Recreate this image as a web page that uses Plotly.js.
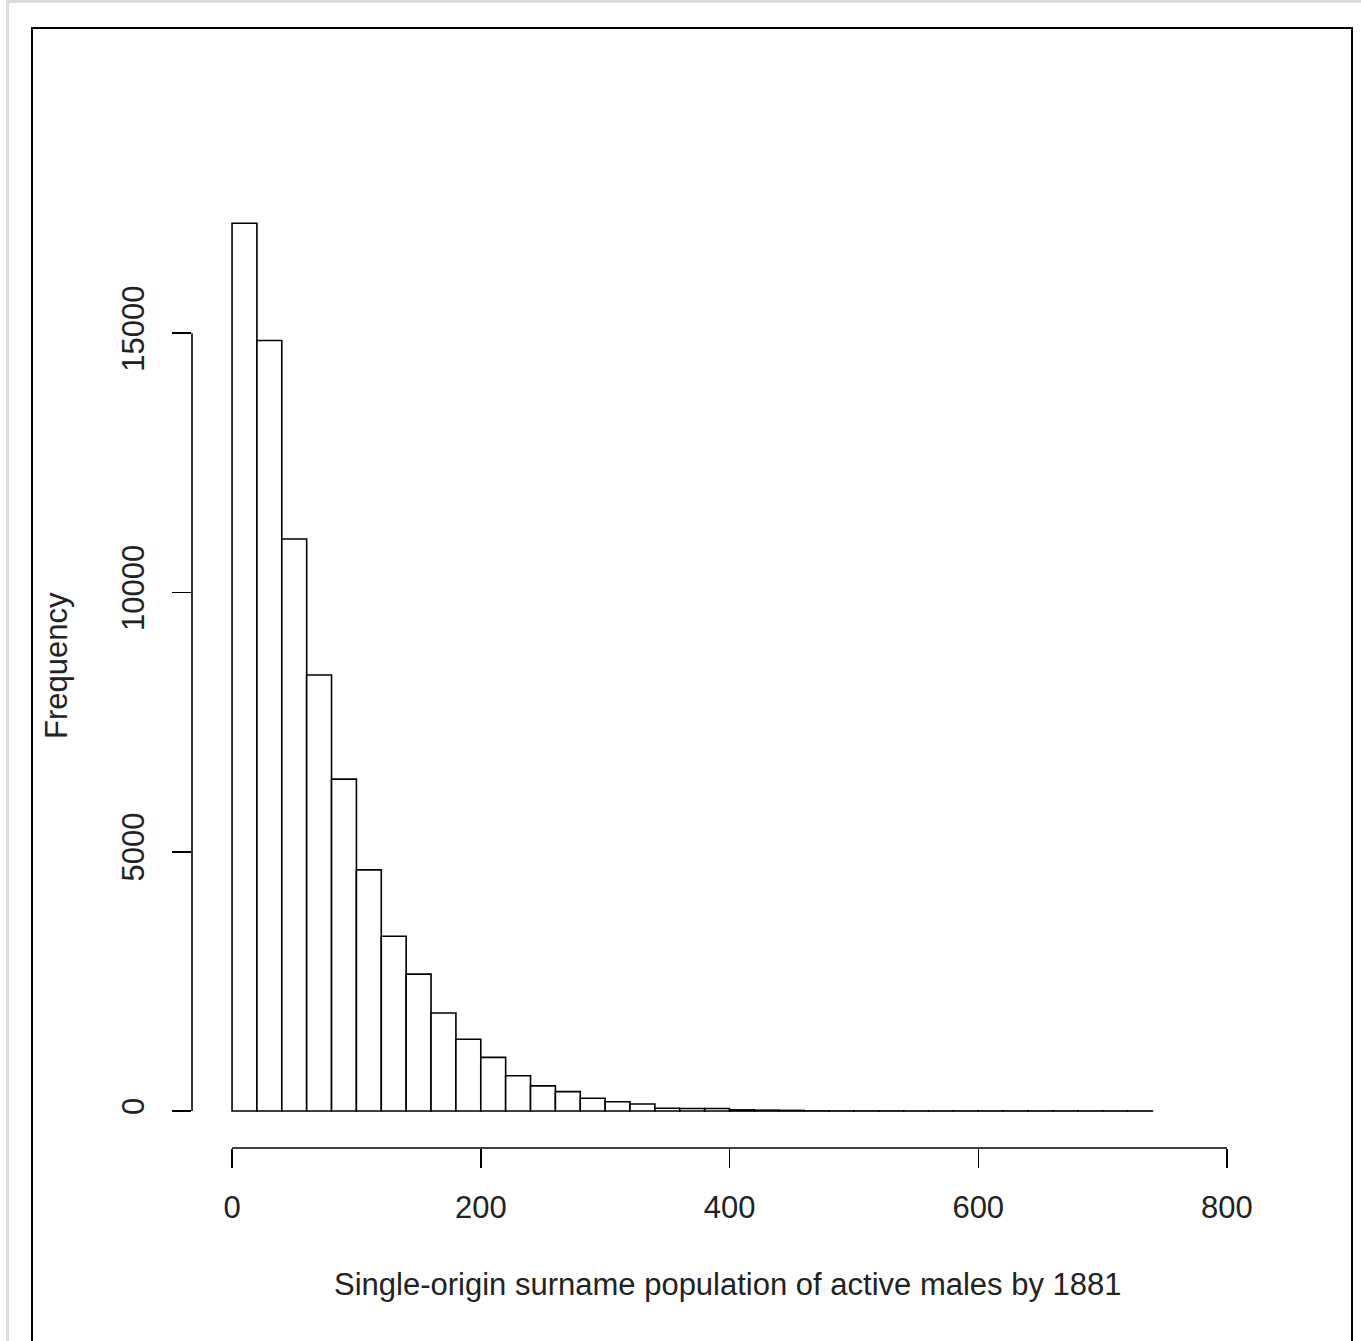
<!DOCTYPE html>
<html>
<head>
<meta charset="utf-8">
<script src="https://cdn.plot.ly/plotly-3.0.1.min.js"></script>
<style>
  html, body { margin: 0; padding: 0; background: #ffffff; }
  #outer { position: absolute; left: 6px; top: 0px; width: 1400px; height: 1400px;
           border-left: 3px solid #dcdcdc; border-top: 3px solid #dcdcdc; }
  #frame { position: absolute; left: 31px; top: 27px; width: 1318px; height: 1400px;
           border: 2px solid #000; }
  #chart { position: absolute; left: 0; top: 0; width: 1361px; height: 1341px; }
</style>
</head>
<body>
<div id="outer"></div>
<div id="frame"></div>
<div id="chart"></div>
<script>
// Histogram bins (left edges, width 20) and frequencies
const binStarts = [0, 20, 40, 60, 80, 100, 120, 140, 160, 180, 200, 220, 240, 260, 280, 300, 320, 340,
                   360, 380, 400, 420, 440, 460, 480, 500, 520, 540, 560, 580, 600, 620, 640, 660, 680, 700, 720];
const binWidth = 20;
const frequencies = [17120, 14860, 11030, 8410, 6400, 4650, 3370, 2640, 1890, 1385, 1035, 680, 485, 375, 245, 180, 135, 55,
                     50, 48, 22, 16, 12, 3, 2, 2, 2, 1, 1, 1, 1, 1, 1, 1, 1, 1, 1];
const xTicks = [0, 200, 400, 600, 800];
const yTicks = [0, 5000, 10000, 15000];
const xTitle = "Single-origin surname population of active males by 1881";
const yTitle = "Frequency";

const font = { family: "Liberation Sans, Arial, sans-serif", size: 31, color: "#222" };

const trace = {
  type: "bar",
  x: binStarts,
  y: frequencies,
  width: binStarts.map(() => binWidth),
  offset: 0,
  marker: { color: "#ffffff", line: { color: "#000000", width: 1.6 } },
  hoverinfo: "skip"
};

const layout = {
  width: 1361, height: 1341,
  margin: { l: 192, r: 88, t: 150, b: 193, autoexpand: false },
  paper_bgcolor: "rgba(0,0,0,0)",
  plot_bgcolor: "rgba(0,0,0,0)",
  font: font,
  showlegend: false,
  bargap: 0,
  xaxis: {
    range: [-32.2, 837],
    tickmode: "array", tickvals: xTicks, ticktext: xTicks.map(String),
    ticks: "outside", ticklen: 19, tickwidth: 1.5, tickcolor: "#000",
    showline: false, showgrid: false, zeroline: false,
    ticklabelstandoff: 13,
    tickfont: font,
    automargin: false
  },
  yaxis: {
    range: [-713, 18533],
    tickmode: "array", tickvals: yTicks, ticktext: yTicks.map(String),
    ticks: "outside", ticklen: 19, tickwidth: 1.5, tickcolor: "#000",
    tickangle: -90,
    showline: false, showgrid: false, zeroline: false,
    ticklabelstandoff: 16,
    tickfont: font,
    automargin: false
  },
  annotations: [
    { text: xTitle, xref: "paper", yref: "paper", x: 0.4954, y: 0, yshift: -136,
      xanchor: "center", yanchor: "middle", showarrow: false, font: font },
    { text: yTitle, xref: "paper", yref: "paper", x: 0, xshift: -135, y: 0.483, textangle: -90,
      xanchor: "center", yanchor: "middle", showarrow: false, font: font }
  ],
  shapes: [
    { type: "line", xref: "x", yref: "paper", x0: xTicks[0], x1: xTicks[xTicks.length - 1], y0: 0, y1: 0,
      line: { color: "#000", width: 1.6 } },
    { type: "line", xref: "paper", yref: "y", x0: 0, x1: 0, y0: yTicks[0], y1: yTicks[yTicks.length - 1],
      line: { color: "#000", width: 1.6 } }
  ]
};

Plotly.newPlot("chart", [trace], layout, { displayModeBar: false, staticPlot: true });
</script>
</body>
</html>
